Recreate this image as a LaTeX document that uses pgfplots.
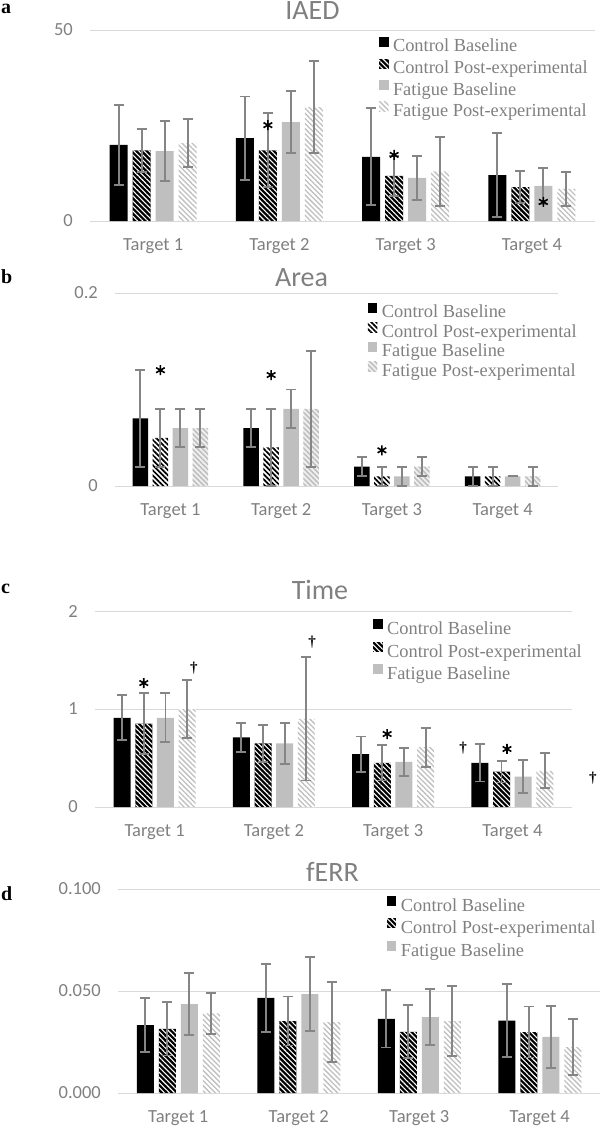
\documentclass[border=0pt]{standalone}
\usepackage{pgfplots}
\pgfplotsset{compat=1.18}
\usepackage{fontspec}
\setmainfont{Liberation Serif}
\newfontfamily\carlito{Carlito}
\usetikzlibrary{patterns.meta}
\definecolor{gridgray}{HTML}{D9D9D9}
\definecolor{txtgray}{HTML}{808080}
\definecolor{errgray}{HTML}{858585}
\definecolor{fbgray}{HTML}{BFBFBF}
\definecolor{fpgray}{HTML}{BFBFBF}

\pgfplotsset{
  sqlegend/.style={legend image code/.code={\fill[##1] (0pt,0pt) rectangle (9.5pt,10pt);}},
  myerr/.style={error bars/y dir=both, error bars/y explicit,
     error bars/error bar style={draw=errgray, line width=1.9pt},
     error bars/error mark options={rotate=90, mark size=5pt, draw=errgray, line width=1.9pt}},
  cb/.style={fill=black, draw=none, sqlegend, myerr},
  cp/.style={fill=black, draw=none, postaction={pattern={Lines[angle=-45,distance=3.6pt,line width=1.1pt]}, pattern color=white}, sqlegend, myerr},
  cpb/.style={fill=white, draw=none, postaction={pattern={Lines[angle=-45,distance=3.6pt,line width=1.7pt]}, pattern color=black}, sqlegend, myerr},
  fb/.style={fill=fbgray, draw=none, sqlegend, myerr},
  fp/.style={fill=white, draw=none, postaction={pattern={Lines[angle=-45,distance=3.6pt,line width=1.3pt]}, pattern color=fpgray}, sqlegend, myerr},
  fpb/.style={fill=gray!12, draw=none, postaction={pattern={Lines[angle=-45,distance=3.6pt,line width=1.6pt]}, pattern color=fpgray}, sqlegend, myerr},
  ast/.style={sharp plot, only marks, mark=asterisk, mark size=5pt, mark options={line width=1.6pt, draw=black}, forget plot},
  panel/.style={scale only axis, ybar, xmin=0.5, xmax=4.5, xtick={1,2,3,4},
    xticklabels={Target 1,Target 2,Target 3,Target 4},
    axis x line=bottom, axis y line=left, axis line style={draw=none},
    major tick length=0pt, ymajorgrids, grid style={draw=gridgray, line width=1pt},
    ticklabel style={font=\carlito\fontsize{18.5}{20}\selectfont, text=txtgray},
    xticklabel style={anchor=base, yshift=-29pt, inner sep=0pt},
    yticklabel style={anchor=east, inner sep=0pt, xshift=-17pt},
    clip=false,
    title style={font=\carlito\fontsize{28}{30}\selectfont, text=txtgray, anchor=base},
    legend cell align=left,
    legend style={draw=none, fill=none, inner sep=0pt, outer sep=0pt, anchor=north west,
      font=\fontsize{18.4}{20}\selectfont, text=txtgray, row sep=0pt,
      /tikz/every odd column/.append style={column sep=4.5pt}}
  }
}

\begin{document}
\begin{tikzpicture}
\path[use as bounding box] (0pt,0pt) rectangle (600pt,-1127pt);
\node[anchor=base west, font=\fontsize{20}{20}\selectfont\bfseries, inner sep=0pt] at (1pt,-13.5pt) {a};
\node[anchor=base west, font=\fontsize{20}{20}\selectfont\bfseries, inner sep=0pt] at (1pt,-283pt) {b};
\node[anchor=base west, font=\fontsize{20}{20}\selectfont\bfseries, inner sep=0pt] at (1pt,-593pt) {c};
\node[anchor=base west, font=\fontsize{20}{20}\selectfont\bfseries, inner sep=0pt] at (1pt,-900pt) {d};

% ---------------- a: IAED
\begin{axis}[panel, at={(90pt,-221pt)}, anchor=south west, width=505pt, height=191pt,
  ymin=0, ymax=50, ytick={0,50}, yticklabels={0,50}, bar width=18pt,
  title=IAED, title style={at={(axis description cs:0.4406,1.0262)}},
  legend style={at={(axis description cs:0.5723,0.9686)}, nodes={inner sep=0pt, text height=15.7pt, text depth=6pt}}]
\addplot[cb, bar shift=-34.5pt] coordinates {(1,19.9) +- (0,10.4) (2,21.7) +- (0,10.9) (3,16.8) +- (0,12.7) (4,12.0) +- (0,11.0)};
\addlegendentry{Control Baseline}
\addplot[cp, bar shift=-11.5pt] coordinates {(1,18.5) +- (0,5.6) (2,18.5) +- (0,9.7) (3,11.8) +- (0,5.2) (4,8.9) +- (0,4.3)};
\addlegendentry{Control Post-experimental}
\addplot[fb, bar shift=11.5pt] coordinates {(1,18.3) +- (0,7.9) (2,25.9) +- (0,8.1) (3,11.3) +- (0,5.7) (4,9.2) +- (0,4.7)};
\addlegendentry{Fatigue Baseline}
\addplot[fp, bar shift=34.5pt] coordinates {(1,20.4) +- (0,6.3) (2,29.8) +- (0,12.1) (3,13.0) +- (0,9.0) (4,8.4) +- (0,4.5)};
\addlegendentry{Fatigue Post-experimental}
\addplot[ast] coordinates {(1.909,25.1) (2.909,17.3) (4.091,5.0)};
\end{axis}

% ---------------- b: Area
\begin{axis}[panel, at={(115pt,-486pt)}, anchor=south west, width=443pt, height=193pt,
  ymin=0, ymax=0.2, ytick={0,0.2}, yticklabels={0,0.2}, bar width=15.5pt,
  title=Area, title style={at={(axis description cs:0.421,1.005)}},
  legend style={at={(axis description cs:0.571,0.948)}, nodes={inner sep=0pt, text height=14pt, text depth=5pt}}]
\addplot[cb, bar shift=-30pt] coordinates {(1,0.07) +- (0,0.05) (2,0.06) +- (0,0.02) (3,0.02) +- (0,0.01) (4,0.01) +- (0,0.01)};
\addlegendentry{Control Baseline}
\addplot[cpb, bar shift=-10pt] coordinates {(1,0.05) +- (0,0.03) (2,0.04) +- (0,0.04) (3,0.01) +- (0,0.01) (4,0.01) +- (0,0.01)};
\addlegendentry{Control Post-experimental}
\addplot[fb, bar shift=10pt] coordinates {(1,0.06) +- (0,0.02) (2,0.08) +- (0,0.02) (3,0.01) +- (0,0.01) (4,0.01) +- (0,0.0)};
\addlegendentry{Fatigue Baseline}
\addplot[fpb, bar shift=30pt] coordinates {(1,0.06) +- (0,0.02) (2,0.08) +- (0,0.06) (3,0.02) +- (0,0.01) (4,0.01) +- (0,0.01)};
\addlegendentry{Fatigue Post-experimental}
\addplot[ast] coordinates {(0.91,0.120) (1.91,0.115) (2.91,0.037)};
\end{axis}

% ---------------- c: Time
\begin{axis}[panel, at={(95pt,-807pt)}, anchor=south west, width=477pt, height=196pt,
  ymin=0, ymax=2, ytick={0,1,2}, yticklabels={0,1,2}, bar width=17pt,
  title=Time, title style={at={(axis description cs:0.4717,1.0306)}},
  legend style={at={(axis description cs:0.583,0.964)}, nodes={inner sep=0pt, text height=16.5pt, text depth=6pt}}]
\addplot[cb, bar shift=-32.5pt] coordinates {(1,0.91) +- (0,0.23) (2,0.71) +- (0,0.15) (3,0.54) +- (0,0.18) (4,0.45) +- (0,0.19)};
\addlegendentry{Control Baseline}
\addplot[cp, bar shift=-10.85pt] coordinates {(1,0.85) +- (0,0.31) (2,0.65) +- (0,0.19) (3,0.45) +- (0,0.18) (4,0.36) +- (0,0.11)};
\addlegendentry{Control Post-experimental}
\addplot[fb, bar shift=10.85pt] coordinates {(1,0.91) +- (0,0.25) (2,0.65) +- (0,0.21) (3,0.46) +- (0,0.14) (4,0.31) +- (0,0.17)};
\addlegendentry{Fatigue Baseline}
\addplot[fp, bar shift=32.5pt] coordinates {(1,1.00) +- (0,0.30) (2,0.90) +- (0,0.63) (3,0.61) +- (0,0.20) (4,0.37) +- (0,0.18)};
\addplot[ast] coordinates {(0.909,1.265) (2.95,0.745) (3.955,0.592)};
\node[font=\fontsize{15}{15}\selectfont\bfseries] at (axis cs:1.330,1.418) {†};
\node[font=\fontsize{15}{15}\selectfont\bfseries] at (axis cs:2.320,1.684) {†};
\node[font=\fontsize{15}{15}\selectfont\bfseries] at (axis cs:3.586,0.602) {†};
\node[font=\fontsize{15}{15}\selectfont\bfseries] at (axis cs:4.676,0.296) {†};
\end{axis}

% ---------------- d: fERR
\begin{axis}[panel, at={(118pt,-1093pt)}, anchor=south west, width=482pt, height=204pt,
  ymin=0, ymax=0.1, ytick={0,0.05,0.1}, yticklabels={0.000,0.050,0.100}, bar width=17pt,
  title=fERR, title style={at={(axis description cs:0.445,1.0098)}},
  legend style={at={(axis description cs:0.558,0.973)}, nodes={inner sep=0pt, text height=16.5pt, text depth=6pt}}]
\addplot[cb, bar shift=-33pt] coordinates {(1,0.0333) +- (0,0.0133) (2,0.0466) +- (0,0.0166) (3,0.0363) +- (0,0.014) (4,0.0355) +- (0,0.018)};
\addlegendentry{Control Baseline}
\addplot[cp, bar shift=-11pt] coordinates {(1,0.0314) +- (0,0.013) (2,0.0353) +- (0,0.012) (3,0.030) +- (0,0.013) (4,0.0299) +- (0,0.0125)};
\addlegendentry{Control Post-experimental}
\addplot[fb, bar shift=11pt] coordinates {(1,0.0436) +- (0,0.0152) (2,0.0485) +- (0,0.018) (3,0.0372) +- (0,0.0137) (4,0.0275) +- (0,0.0153)};
\addlegendentry{Fatigue Baseline}
\addplot[fp, bar shift=33pt] coordinates {(1,0.039) +- (0,0.010) (2,0.0348) +- (0,0.0196) (3,0.0353) +- (0,0.017) (4,0.0225) +- (0,0.0137)};
\end{axis}
\end{tikzpicture}
\end{document}
